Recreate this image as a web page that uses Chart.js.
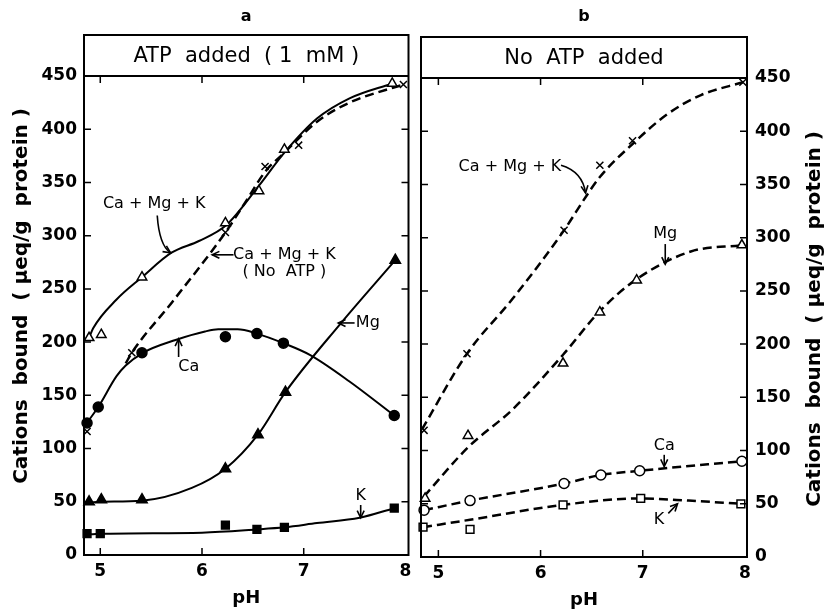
<!DOCTYPE html>
<html>
<head>
<meta charset="utf-8">
<script src="https://cdn.jsdelivr.net/npm/chart.js@4.4.1/dist/chart.umd.min.js"></script>
<style>
  html, body { margin: 0; padding: 0; background: #fff; }
  #wrap { position: relative; width: 827px; height: 611px; overflow: hidden; }
  #chartA { position: absolute; left: 0; top: 0; }
  #chartB { position: absolute; left: 414px; top: 2px; }
</style>
</head>
<body>
<div id="wrap">
  <canvas id="chartA" width="416" height="611"></canvas>
  <canvas id="chartB" width="413" height="609"></canvas>
</div>
<script>
// tick labels
const ph_ticks = [5, 6, 7, 8];
const y_ticks = [0, 50, 100, 150, 200, 250, 300, 350, 400, 450];

// ---- panel a : ATP added (1 mM) ----  [pH, ueq/g protein]
const a_total_pts   = [[4.89,204],[5.01,207],[5.41,261],[6.23,312],[6.56,342],[6.81,381],[7.87,443]];
const a_total_curve = [[4.89,204],[4.93,213],[5.16,240],[5.41,261],[5.70,284],[5.97,295],[6.24,310],[6.56,347],[6.81,378],[7.13,410],[7.45,429],[7.87,443]];
const a_noatp_pts   = [[4.87,116],[5.31,190],[6.23,303],[6.62,365],[6.95,385],[7.98,442]];
const a_noatp_curve = [[5.25,180],[5.31,190],[5.71,238],[6.23,303],[6.45,335],[6.62,360],[6.81,378],[7.13,407],[7.45,425],[7.98,442]];
const a_ca_pts      = [[4.87,124],[4.98,139],[5.41,190],[6.23,205],[6.54,208],[6.80,199],[7.89,131]];
const a_ca_curve    = [[4.84,119],[4.87,124],[4.98,139],[5.16,168],[5.25,178],[5.42,190],[5.74,202],[6.03,210],[6.16,212],[6.35,212],[6.54,208],[6.80,199],[7.06,188],[7.45,163],[7.89,131]];
const a_mg_pts      = [[4.89,50],[5.01,52],[5.41,52],[6.23,81],[6.55,113],[6.82,153],[7.90,277]];
const a_mg_curve    = [[4.84,49],[5.01,50],[5.41,51],[5.90,63],[6.23,81],[6.55,113],[6.82,153],[7.35,216],[7.90,277]];
const a_k_pts       = [[4.87,20],[5.00,20],[6.23,28],[6.54,24],[6.81,26],[7.89,44]];
const a_k_curve     = [[4.84,19],[5.00,20],[6.00,21],[6.54,24],[6.81,26],[7.13,30],[7.55,35],[7.89,44]];

// ---- panel b : No ATP added ----
const b_total_pts   = [[4.86,119],[5.28,191],[6.23,307],[6.58,368],[6.90,391],[7.98,446]];
const b_total_curve = [[4.84,120],[5.28,191],[5.73,243],[6.23,307],[6.44,338],[6.58,357],[6.90,388],[7.24,416],[7.57,434],[7.98,446]];
const b_mg_pts      = [[4.87,55],[5.29,114],[6.22,182],[6.58,230],[6.94,260],[7.97,293]];
const b_mg_curve    = [[4.86,57],[5.29,103],[5.73,139],[6.22,190],[6.58,231],[6.94,261],[7.47,287],[7.97,293]];
const b_ca_pts      = [[4.86,44],[5.31,53],[6.23,69],[6.59,77],[6.97,81],[7.97,90]];
const b_ca_curve    = [[4.86,44],[5.31,53],[6.23,69],[6.59,77],[6.97,81],[7.97,90]];
const b_k_pts       = [[4.85,28],[5.31,26],[6.22,49],[6.98,55],[7.96,50]];
const b_k_curve     = [[4.85,28],[5.31,35],[6.22,49],[6.98,55],[7.45,53],[7.96,50]];

const FONT = '"DejaVu Sans", Verdana, sans-serif';
const xy = arr => arr.map(p => ({ x: p[0], y: p[1] }));

function curve(arr, dashed) {
  return {
    data: xy(arr), showLine: true, pointRadius: 0, borderColor: '#000',
    borderWidth: dashed ? 2.5 : 2, borderDash: dashed ? [9, 5] : [],
    cubicInterpolationMode: 'monotone', order: 2
  };
}
function marks(arr, style, r, filled) {
  return {
    data: xy(arr), showLine: false, pointStyle: style, pointRadius: r,
    pointBackgroundColor: filled ? '#000' : '#fff', pointBorderColor: '#000',
    pointBorderWidth: 1.5, order: 1, clip: 8
  };
}

function drawArrow(ctx, pts) {
  ctx.beginPath();
  ctx.moveTo(pts[0][0], pts[0][1]);
  if (pts.length === 3) ctx.quadraticCurveTo(pts[1][0], pts[1][1], pts[2][0], pts[2][1]);
  else ctx.lineTo(pts[1][0], pts[1][1]);
  ctx.stroke();
  const end = pts[pts.length - 1], prev = pts[pts.length - 2];
  const ang = Math.atan2(end[1] - prev[1], end[0] - prev[0]);
  ctx.beginPath();
  ctx.moveTo(end[0] - 8 * Math.cos(ang - 0.45), end[1] - 8 * Math.sin(ang - 0.45));
  ctx.lineTo(end[0], end[1]);
  ctx.lineTo(end[0] - 8 * Math.cos(ang + 0.45), end[1] - 8 * Math.sin(ang + 0.45));
  ctx.stroke();
}

// frame, header strip, inward ticks, titles, labels
function decor(cfg) {
  return {
    id: 'decor',
    afterDraw(chart) {
      const { ctx, chartArea: ca, scales } = chart;
      const px = v => scales.x.getPixelForValue(v);
      const py = v => scales.y.getPixelForValue(v);
      ctx.save();
      ctx.strokeStyle = '#000';
      ctx.fillStyle = '#000';
      ctx.lineWidth = 2;
      ctx.strokeRect(ca.left, ca.top - 41, ca.right - ca.left, ca.bottom - ca.top + 41);
      ctx.beginPath();
      ctx.moveTo(ca.left, ca.top); ctx.lineTo(ca.right, ca.top);
      ctx.stroke();

      ctx.lineWidth = 1.5;
      ctx.beginPath();
      y_ticks.forEach(v => {
        if (v <= 0 || v >= 450) return;
        ctx.moveTo(ca.left, py(v)); ctx.lineTo(ca.left + 7, py(v));
        ctx.moveTo(ca.right, py(v)); ctx.lineTo(ca.right - 7, py(v));
      });
      ph_ticks.forEach(v => {
        const x = px(v);
        if (x > ca.right - 4) return;
        ctx.moveTo(x, ca.top); ctx.lineTo(x, ca.top + 7);
        ctx.moveTo(x, ca.bottom); ctx.lineTo(x, ca.bottom - 7);
      });
      ctx.stroke();

      ctx.textAlign = 'center';
      ctx.textBaseline = 'middle';
      ctx.font = '21px ' + FONT;
      ctx.fillText(cfg.header, (ca.left + ca.right) / 2, ca.top - 19);
      ctx.font = 'bold 16px ' + FONT;
      ctx.fillText(cfg.letter, (ca.left + ca.right) / 2, cfg.letterY);
      ctx.font = 'bold 18px ' + FONT;
      ctx.fillText('pH', (ca.left + ca.right) / 2, ca.bottom + 43);

      ctx.save();
      ctx.translate(cfg.titleX, cfg.titleY);
      ctx.rotate(-Math.PI / 2);
      ctx.font = 'bold 20px ' + FONT;
      ctx.fillText('Cations  bound  ( \u03bceq/g  protein )', 0, 0);
      ctx.restore();

      ctx.font = '16px ' + FONT;
      cfg.notes.forEach(n => ctx.fillText(n.t, px(n.x), py(n.y)));
      ctx.lineWidth = 1.6;
      cfg.arrows.forEach(a => drawArrow(ctx, a.map(p => [px(p[0]), py(p[1])])));
      ctx.restore();
    }
  };
}

function makeChart(id, datasets, xr, side, cfg) {
  return new Chart(document.getElementById(id), {
    type: 'scatter',
    data: { datasets },
    options: {
      responsive: false,
      animation: false,
      layout: { padding: cfg.padding },
      plugins: { legend: { display: false }, tooltip: { enabled: false } },
      scales: {
        x: {
          type: 'linear', min: xr[0], max: xr[1],
          grid: { display: false, drawTicks: false }, border: { display: false },
          afterBuildTicks: s => { s.ticks = ph_ticks.map(v => ({ value: v })); },
          ticks: { color: '#000', font: { family: FONT, size: 17, weight: 'bold' }, padding: 6, maxRotation: 0 },
          afterFit: s => { s.height = cfg.xHeight; s.paddingLeft = 0; s.paddingRight = 0; }
        },
        y: {
          position: side, min: 0, max: 450,
          grid: { display: false, drawTicks: false }, border: { display: false },
          afterBuildTicks: s => { s.ticks = y_ticks.map(v => ({ value: v })); },
          ticks: { color: '#000', font: { family: FONT, size: 17, weight: 'bold' }, padding: side === 'left' ? 7 : 8 },
          afterFit: s => { s.width = cfg.yWidth; s.paddingTop = 0; s.paddingBottom = 0; }
        }
      }
    },
    plugins: [decor(cfg)]
  });
}

makeChart('chartA', [
  marks(a_total_pts, 'triangle', 5.5, false),
  marks(a_noatp_pts, 'crossRot', 5, false),
  marks(a_ca_pts, 'circle', 5, true),
  marks(a_mg_pts, 'triangle', 6, true),
  marks(a_k_pts, 'rect', 5.5, true),
  curve(a_total_curve, false),
  curve(a_noatp_curve, true),
  curve(a_ca_curve, false),
  curve(a_mg_curve, false),
  curve(a_k_curve, false)
], [4.84, 8.03], 'left', {
  padding: { top: 76, right: 3, left: 0, bottom: 0 },
  xHeight: 56, yWidth: 84,
  header: 'ATP  added  ( 1  mM )', letter: 'a', letterY: 17,
  titleX: 22, titleY: 296,
  notes: [
    { t: 'Ca + Mg + K', x: 5.53, y: 330 },
    { t: 'Ca + Mg + K', x: 6.81, y: 282 },
    { t: '( No  ATP )', x: 6.81, y: 266 },
    { t: 'Ca', x: 5.87, y: 177 },
    { t: 'Mg', x: 7.63, y: 218 },
    { t: 'K', x: 7.56, y: 56 }
  ],
  arrows: [
    [[5.56, 319], [5.58, 291], [5.69, 284]],
    [[6.31, 282], [6.10, 282]],
    [[5.77, 186], [5.77, 203]],
    [[7.50, 218], [7.34, 218]],
    [[7.56, 47], [7.56, 35]]
  ]
});

makeChart('chartB', [
  marks(b_total_pts, 'crossRot', 5, false),
  marks(b_mg_pts, 'triangle', 5.5, false),
  marks(b_ca_pts, 'circle', 5, false),
  marks(b_k_pts, 'rect', 5.5, false),
  curve(b_total_curve, true),
  curve(b_mg_curve, true),
  curve(b_ca_curve, true),
  curve(b_k_curve, true)
], [4.83, 8.02], 'right', {
  padding: { top: 76, right: 0, left: 3, bottom: 0 },
  xHeight: 54, yWidth: 80,
  header: 'No  ATP  added', letter: 'b', letterY: 15,
  titleX: 401, titleY: 317,
  notes: [
    { t: 'Ca + Mg + K', x: 5.70, y: 367 },
    { t: 'Mg', x: 7.22, y: 304 },
    { t: 'Ca', x: 7.21, y: 104 },
    { t: 'K', x: 7.16, y: 35 }
  ],
  arrows: [
    [[6.20, 368], [6.41, 362], [6.44, 342]],
    [[7.22, 294], [7.22, 275]],
    [[7.21, 96], [7.21, 85]],
    [[7.25, 41], [7.34, 50]]
  ]
});
</script>
</body>
</html>
